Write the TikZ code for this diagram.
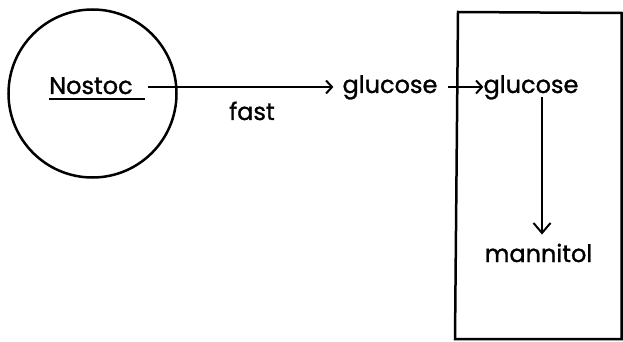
\documentclass[tikz,border=0pt]{standalone}
\usepackage{fontspec}
\setmainfont{Poppins}[FakeBold=1.2]
\usetikzlibrary{arrows.meta}
\begin{document}
\begin{tikzpicture}[x=1pt,y=-1pt,
  lbl/.style={inner sep=0pt, anchor=base, font=\fontsize{24}{28}\selectfont},
  outline/.style={line width=2.5pt},
  flow/.style={line width=2pt, -{Straight Barb[length=6pt,width=13pt,line width=2pt]}},
  flowv/.style={line width=2pt, -{Straight Barb[length=10pt,width=17pt,line width=2pt]}}]
\useasboundingbox (0,0) rectangle (623,342);
% cell
\node[circle, draw, outline, minimum size=168pt, inner sep=0pt] (cell) at (92.5,93.5) {};
\node[lbl] (nostoc) at (91,94) {Nostoc};
\draw[line width=2.2pt] ([yshift=-5pt]nostoc.base west) -- ++(96,0);
% labels
\node[lbl] (fast) at (252,120) {fast};
\node[lbl] (g1) at (390,93) {glucose};
\node[lbl] (g2) at (531,93) {glucose};
\node[lbl] (mann) at (538.5,262) {mannitol};
% compartment box
\draw[outline] (458,12) -- (621.5,13) -- (621.5,339) -- (455,339) -- cycle;
% arrows
\coordinate (a1s) at (148,87);
\coordinate (a2s) at (448,87);
\coordinate (a3s) at (542,97);
\draw[flow, shorten >=9pt] (a1s) -- (a1s -| g1.west);
\draw[flow] (a2s) -- (a2s -| g2.west);
\draw[flowv, shorten >=9pt] (a3s) -- (a3s |- mann.north);
\end{tikzpicture}
\end{document}
